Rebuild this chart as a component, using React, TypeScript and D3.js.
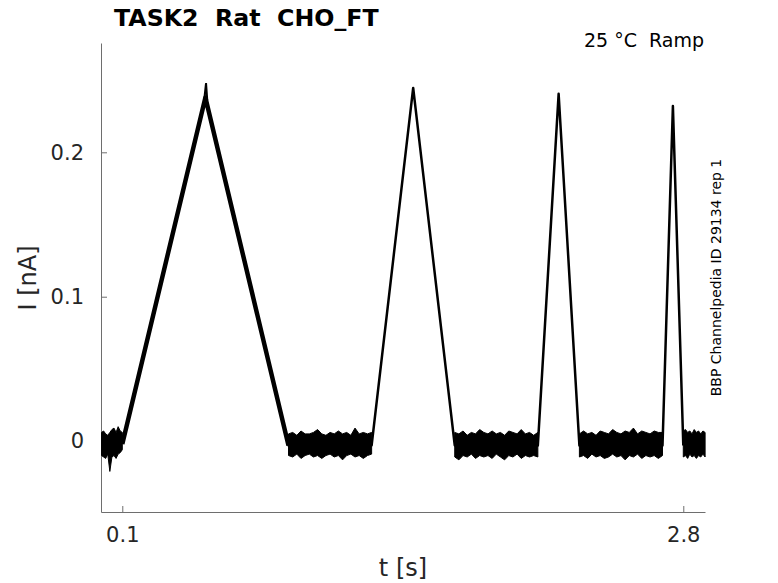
import * as d3 from "d3";
import { useEffect, useRef } from "react";

// mean trace of the ramp protocol: [t (s), I (nA)]
const traceT = [0.1, 0.5, 0.9, 1.3, 1.5, 1.7, 2.1, 2.2, 2.3, 2.7, 2.75, 2.8];
const traceI = [-0.002, 0.238, -0.003, -0.003, 0.2446, -0.003, -0.003, 0.2405, -0.003, -0.003, 0.232, -0.003];

// noise spike near the top of the slow ramp
const spikeT = [0.494, 0.503, 0.509];
const spikeI = [0.236, 0.248, 0.236];

// baseline noise bands (upper / lower edge, nA), sampled from start with a fixed step
interface Band {
  start: number;
  step: number;
  hi: number[];
  lo: number[];
}

const bandA: Band = {
  start: 0,
  step: 0.01,
  hi: [0.006, 0.007, 0.005, 0.004, 0.006, 0.008, 0.009, 0.006, 0.01, 0.007, 0.006],
  lo: [-0.01, -0.011, -0.012, -0.009, -0.021, -0.011, -0.01, -0.012, -0.009, -0.008, -0.006],
};
const bandB: Band = {
  start: 0.9,
  step: 0.02,
  hi: [0.005, 0.006, 0.004, 0.007, 0.005, 0.005, 0.006, 0.008, 0.005, 0.004, 0.006, 0.005, 0.007, 0.005, 0.006, 0.004, 0.009, 0.005, 0.006, 0.005, 0.006],
  lo: [-0.01, -0.011, -0.009, -0.012, -0.01, -0.009, -0.011, -0.01, -0.012, -0.01, -0.009, -0.011, -0.01, -0.013, -0.01, -0.009, -0.011, -0.01, -0.012, -0.01, -0.009],
};
const bandC: Band = {
  start: 1.7,
  step: 0.02,
  hi: [0.006, 0.005, 0.007, 0.004, 0.006, 0.005, 0.008, 0.006, 0.005, 0.007, 0.005, 0.006, 0.004, 0.007, 0.006, 0.005, 0.008, 0.005, 0.006, 0.004, 0.006],
  lo: [-0.011, -0.013, -0.01, -0.011, -0.009, -0.012, -0.01, -0.011, -0.01, -0.012, -0.009, -0.011, -0.013, -0.01, -0.011, -0.009, -0.012, -0.01, -0.011, -0.01, -0.011],
};
const bandD: Band = {
  start: 2.3,
  step: 0.02,
  hi: [0.005, 0.007, 0.005, 0.006, 0.004, 0.007, 0.006, 0.005, 0.008, 0.006, 0.005, 0.007, 0.006, 0.009, 0.005, 0.007, 0.006, 0.005, 0.007, 0.006, 0.006],
  lo: [-0.011, -0.01, -0.012, -0.009, -0.011, -0.01, -0.012, -0.011, -0.009, -0.011, -0.01, -0.013, -0.01, -0.011, -0.009, -0.012, -0.01, -0.011, -0.01, -0.012, -0.01],
};
const bandE: Band = {
  start: 2.8,
  step: 0.0105,
  hi: [0.007, 0.008, 0.006, 0.007, 0.005, 0.008, 0.006, 0.007, 0.005, 0.007, 0.006],
  lo: [-0.011, -0.01, -0.012, -0.009, -0.011, -0.01, -0.012, -0.01, -0.011, -0.009, -0.011],
};
const bands = [bandA, bandB, bandC, bandD, bandE];

const xTicks = [0.1, 2.8];
const yTicks = [0, 0.1, 0.2];

export default function App() {
  const svgRef = useRef<SVGSVGElement>(null);

  useEffect(() => {
    if (!svgRef.current) return;
    const svg = d3.select<SVGSVGElement, unknown>(svgRef.current);
    svg.selectAll("*").remove();

    const width = 778;
    const height = 583;
    const left = 101;
    const right = 705;
    const top = 43;
    const bottom = 512;
    const font = "DejaVu Sans, sans-serif";

    svg.attr("width", width).attr("height", height);
    svg.append("rect").attr("width", width).attr("height", height).attr("fill", "#fff");

    const x = d3.scaleLinear().domain([-0.0025, 2.9045]).range([left, right]);
    const y = d3.scaleLinear().domain([-0.0491, 0.2757]).range([bottom, top]);

    // axes
    const xAxis = d3
      .axisBottom(x)
      .tickValues(xTicks)
      .tickSize(-6)
      .tickSizeOuter(0)
      .tickPadding(15)
      .tickFormat((d) => String(d));
    const yAxis = d3
      .axisLeft(y)
      .tickValues(yTicks)
      .tickSize(-6)
      .tickSizeOuter(0)
      .tickPadding(17)
      .tickFormat((d) => String(d));

    const gx = svg.append("g").attr("transform", `translate(0,${bottom})`).call(xAxis);
    const gy = svg.append("g").attr("transform", `translate(${left},0)`).call(yAxis);
    for (const g of [gx, gy]) {
      g.select(".domain").attr("stroke", "#6e6e6e");
      g.selectAll(".tick line").attr("stroke", "#6e6e6e");
      g.selectAll(".tick text")
        .attr("fill", "#262626")
        .attr("font-size", "21px")
        .attr("font-family", font);
    }

    // trace
    const g = svg.append("g");
    const pts: [number, number][] = traceT.map((t, i) => [t, traceI[i]]);
    const line = d3
      .line<[number, number]>()
      .x((d) => x(d[0]))
      .y((d) => y(d[1]));

    const area = d3
      .area<[number, number, number]>()
      .x((d) => x(d[0]))
      .y0((d) => y(d[1]))
      .y1((d) => y(d[2]));

    bands.forEach((b) => {
      const rows: [number, number, number][] = b.hi.map((h, i) => [b.start + i * b.step, b.lo[i], h]);
      g.append("path").attr("d", area(rows)).attr("fill", "#000").attr("stroke", "#000").attr("stroke-width", 1);
    });

    g.append("path")
      .attr("d", line(pts))
      .attr("fill", "none")
      .attr("stroke", "#000")
      .attr("stroke-width", 2.5)
      .attr("stroke-linejoin", "round");

    // slow ramp is noisier, so thicker
    g.append("path")
      .attr("d", line(pts.filter((p) => p[0] <= 0.9)))
      .attr("fill", "none")
      .attr("stroke", "#000")
      .attr("stroke-width", 4.5)
      .attr("stroke-linejoin", "round");

    g.append("path")
      .attr("d", line(spikeT.map((t, i) => [t, spikeI[i]] as [number, number])))
      .attr("fill", "none")
      .attr("stroke", "#000")
      .attr("stroke-width", 2);

    // labels
    svg
      .append("text")
      .attr("x", 114)
      .attr("y", 26)
      .attr("font-family", font)
      .attr("font-weight", "bold")
      .attr("font-size", "23.7px")
      .attr("fill", "#000")
      .style("white-space", "pre")
      .text("TASK2  Rat  CHO_FT");

    svg
      .append("text")
      .attr("x", 704)
      .attr("y", 47)
      .attr("text-anchor", "end")
      .attr("font-family", font)
      .attr("font-size", "19px")
      .attr("fill", "#000")
      .style("white-space", "pre")
      .text("25 °C  Ramp");

    svg
      .append("text")
      .attr("x", (left + right) / 2)
      .attr("y", 576)
      .attr("text-anchor", "middle")
      .attr("font-family", font)
      .attr("font-size", "24px")
      .attr("fill", "#262626")
      .text("t [s]");

    svg
      .append("text")
      .attr("transform", "translate(36,278) rotate(-90)")
      .attr("text-anchor", "middle")
      .attr("font-family", font)
      .attr("font-size", "24px")
      .attr("fill", "#262626")
      .text("I [nA]");

    svg
      .append("text")
      .attr("transform", "translate(721,277.5) rotate(-90)")
      .attr("text-anchor", "middle")
      .attr("font-family", font)
      .attr("font-size", "14px")
      .attr("fill", "#000")
      .text("BBP Channelpedia ID 29134 rep 1");
  }, []);

  return <svg ref={svgRef} style={{ position: "absolute", left: 0, top: 0, display: "block" }}></svg>;
}
